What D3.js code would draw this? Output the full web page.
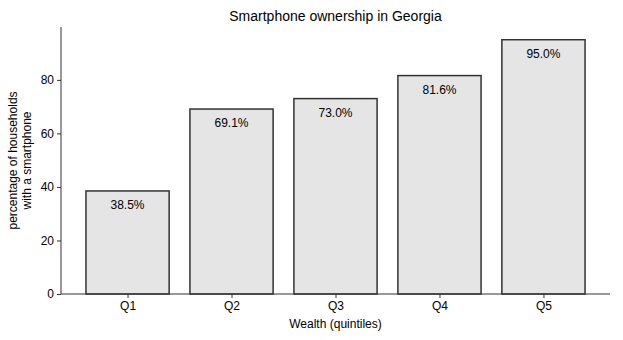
<!DOCTYPE html>
<html>
<head>
<meta charset="utf-8">
<script src="https://cdn.jsdelivr.net/npm/d3@7"></script>
<style>
  body { margin: 0; background: white; }
  text { font-family: "Liberation Sans", Arial, sans-serif; fill: #000; }
</style>
</head>
<body>
<div id="chart"></div>
<script>
// data
var quintiles = ["Q1", "Q2", "Q3", "Q4", "Q5"];
var ownership = [38.5, 69.1, 73.0, 81.6, 95.0];
var yTicks = [0, 20, 40, 60, 80];

var width = 623, height = 340;
var mLeft = 61, mRight = 610, mTop = 27, mBottom = 294;

var svg = d3.select("#chart")
            .append("svg")
            .attr("width", width)
            .attr("height", height)
            .style("background-color", "white");

// x scale in bar units, with matplotlib-ish margins
var x = d3.scaleLinear()
          .domain([-0.64, quintiles.length - 1 + 0.64])
          .range([mLeft, mRight]);

var y = d3.scaleLinear()
          .domain([0, d3.max(ownership) * 1.05])
          .range([mBottom, mTop]);

var barW = x(0.8) - x(0);

//Bars
svg.selectAll("rect.bar")
   .data(ownership)
   .enter()
   .append("rect")
   .attr("class", "bar")
   .attr("x", function(d, i) { return x(i) - barW / 2; })
   .attr("y", function(d) { return y(d); })
   .attr("width", barW)
   .attr("height", function(d) { return y(0) - y(d); })
   .attr("fill", "#e5e5e5")
   .attr("stroke", "#333")
   .attr("stroke-width", 1.5);

//Bar labels
svg.selectAll("text.val")
   .data(ownership)
   .enter()
   .append("text")
   .attr("class", "val")
   .attr("x", function(d, i) { return x(i); })
   .attr("y", function(d) { return y(d) + 18; })
   .attr("text-anchor", "middle")
   .style("font-size", "12px")
   .text(function(d) { return d.toFixed(1) + "%"; });

//Axes
var xAxis = d3.axisBottom(x)
              .tickValues(d3.range(quintiles.length))
              .tickFormat(function(i) { return quintiles[i]; })
              .tickSize(4)
              .tickPadding(3);

var gx = svg.append("g")
   .attr("transform", "translate(0," + mBottom + ")")
   .call(xAxis);

var yAxis = d3.axisLeft(y)
              .tickValues(yTicks)
              .tickSize(4)
              .tickPadding(3);

var gy = svg.append("g")
   .attr("transform", "translate(" + mLeft + ",0)")
   .call(yAxis);

[gx, gy].forEach(function(g) {
  g.selectAll(".tick line").attr("stroke", "#333");
  g.selectAll(".tick text")
   .style("font-size", "12px")
   .style("font-family", "Liberation Sans, Arial, sans-serif")
   .attr("fill", "#000");
});
// plain spines, no end caps
gx.select(".domain").attr("stroke", "#333").attr("d", "M" + mLeft + ",0H" + mRight);
gy.select(".domain").attr("stroke", "#333").attr("d", "M0," + mBottom + "V" + mTop);

//Titles
svg.append("text")
   .attr("x", (mLeft + mRight) / 2)
   .attr("y", 21)
   .attr("text-anchor", "middle")
   .style("font-size", "14px")
   .text("Smartphone ownership in Georgia");

svg.append("text")
   .attr("x", (mLeft + mRight) / 2)
   .attr("y", 328)
   .attr("text-anchor", "middle")
   .style("font-size", "12px")
   .text("Wealth (quintiles)");

var yl = svg.append("text")
   .attr("transform", "translate(17," + (mTop + mBottom) / 2 + ") rotate(-90)")
   .attr("text-anchor", "middle")
   .style("font-size", "12px");
yl.append("tspan").attr("x", 0).attr("dy", 0).text("percentage of households");
yl.append("tspan").attr("x", 0).attr("dy", 14).text("with a smartphone");
</script>
</body>
</html>
